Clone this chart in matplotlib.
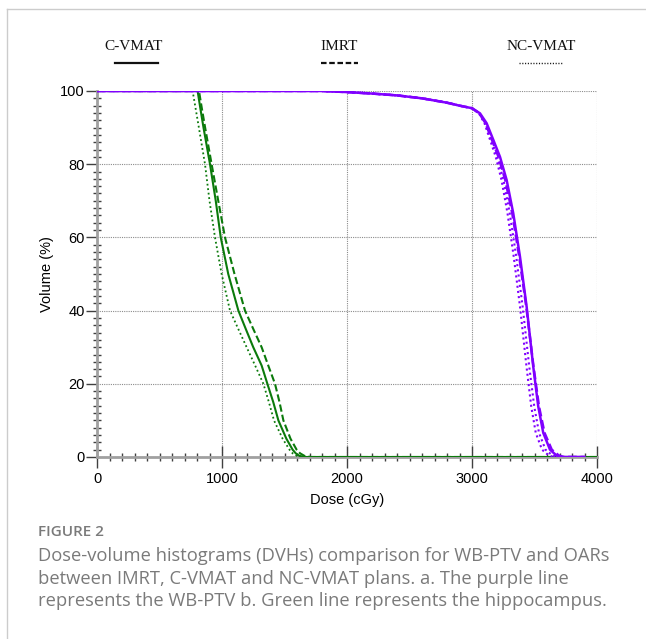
import matplotlib
matplotlib.use("Agg")
import matplotlib.pyplot as plt
from matplotlib.lines import Line2D
from matplotlib.ticker import MultipleLocator

# ---------------- data ----------------
plans = ["C-VMAT", "IMRT", "NC-VMAT"]

# Hippocampus (green)
hip_vol = [100, 100, 95, 90, 80, 70, 60, 50, 40, 35, 30, 25, 20, 15, 10, 5, 2, 1, 0.3, 0, 0]
hip_cvmat_dose = [0, 805, 828, 852, 904, 950, 990, 1050, 1131, 1190, 1250, 1317, 1363, 1410, 1451, 1515, 1565, 1590, 1620, 1660, 4000]
hip_imrt_dose = [0, 816, 840, 865, 917, 970, 1024, 1100, 1184, 1250, 1317, 1370, 1424, 1460, 1491, 1548, 1597, 1625, 1660, 1710, 4000]
hip_ncvmat_dose = [0, 765, 790, 815, 864, 900, 944, 997, 1064, 1130, 1197, 1265, 1331, 1375, 1416, 1485, 1540, 1565, 1600, 1645, 4000]

# WB-PTV (purple)
ptv_vol = [100, 100, 99.7, 99.3, 98.8, 98.0, 96.8, 96.0, 95.3, 93.9, 91.2, 86.6, 82.0, 75.7, 66.6, 54.7, 41.1, 24.7, 13.8, 6.6, 2.0, 0.4, 0, 0]
ptv_cvmat_dose = [0, 1800, 2000, 2200, 2400, 2600, 2800, 2900, 3000, 3064, 3117, 3171, 3224, 3277, 3330, 3384, 3437, 3490, 3530, 3570, 3624, 3677, 3715, 3900]
ptv_imrt_dose = [0, 1800, 2000, 2200, 2400, 2600, 2800, 2900, 3000, 3058, 3108, 3160, 3212, 3266, 3322, 3378, 3434, 3492, 3536, 3580, 3638, 3695, 3735, 3900]
ptv_ncvmat_dose = [0, 1800, 2000, 2200, 2400, 2600, 2800, 2900, 3000, 3055, 3100, 3145, 3190, 3236, 3284, 3334, 3384, 3436, 3474, 3510, 3560, 3615, 3655, 3900]
ptv_ncvmat2_dose = [0, 1800, 2000, 2200, 2400, 2600, 2800, 2900, 3000, 3058, 3105, 3155, 3203, 3252, 3302, 3354, 3405, 3458, 3498, 3536, 3588, 3645, 3685, 3900]

x_ticks = [0, 1000, 2000, 3000, 4000]
y_ticks = [0, 20, 40, 60, 80, 100]

caption_title = "FIGURE 2"
caption_lines = [
    "Dose-volume histograms (DVHs) comparison for WB-PTV and OARs",
    "between IMRT, C-VMAT and NC-VMAT plans. a. The purple line",
    "represents the WB-PTV b. Green line represents the hippocampus.",
]

# ---------------- figure ----------------
plt.rcParams["font.family"] = ["Liberation Sans", "DejaVu Sans"]
W, H = 646, 639
fig = plt.figure(figsize=(W / 100, H / 100), dpi=100)

def fx(px):
    return px / W

def fy(py):
    return 1 - py / H

ax = fig.add_axes([fx(97), fy(457), fx(597) - fx(97), fy(91) - fy(457)])

green = "#0b7a0b"
purple = "#8000ff"

ax.plot(hip_cvmat_dose, hip_vol, color=green, lw=1.5, ls="-", zorder=3)
ax.plot(hip_imrt_dose, hip_vol, color=green, lw=1.5, ls=(0, (3.5, 1.5)), zorder=3)
ax.plot(hip_ncvmat_dose, hip_vol, color=green, lw=1.3, ls=(0, (1, 1.5)), zorder=3)

ax.plot(ptv_cvmat_dose, ptv_vol, color=purple, lw=1.8, ls="-", zorder=4)
ax.plot(ptv_imrt_dose, ptv_vol, color=purple, lw=1.8, ls=(0, (3.5, 1.5)), zorder=4)
ax.plot(ptv_ncvmat_dose, ptv_vol, color=purple, lw=1.5, ls=(0, (1, 1.5)), zorder=4)
ax.plot(ptv_ncvmat2_dose, ptv_vol, color=purple, lw=1.5, ls=(0, (1, 1.5)), zorder=4)

ax.set_xlim(0, 4000)
ax.set_ylim(0, 100)
ax.set_xticks(x_ticks)
ax.set_yticks(y_ticks)
ax.xaxis.set_minor_locator(MultipleLocator(100))
ax.yaxis.set_minor_locator(MultipleLocator(2))

ax.grid(True, which="major", color="#8c8c8c", ls=(0, (1, 1)), lw=0.8)
for s in ["top", "right"]:
    ax.spines[s].set_visible(False)
for s in ["left", "bottom"]:
    ax.spines[s].set_color("#a0a0a0")
    ax.spines[s].set_linewidth(2)
    ax.spines[s].set_zorder(2)

ax.tick_params(axis="y", which="major", direction="out", length=8, width=1, color="#404040",
               labelsize=10.5, pad=1)
ax.tick_params(axis="y", which="minor", direction="inout", length=6, width=1, color="#404040")
ax.tick_params(axis="x", which="major", direction="inout", length=16, width=1, color="#404040",
               labelsize=10.5, pad=3)
ax.tick_params(axis="x", which="minor", direction="inout", length=6, width=1, color="#404040")

ax.set_xlabel("Dose (cGy)", fontsize=10.5, labelpad=5)
ax.set_ylabel("Volume (%)", fontsize=10.5, labelpad=4)

# ---------------- legend (header style) ----------------
serif = ["Liberation Serif", "DejaVu Serif"]
leg_items = [
    ("C-VMAT", 134, 115, 158, "-", 1.6),
    ("IMRT", 339, 321, 358, (0, (2.5, 1.2)), 1.6),
    ("NC-VMAT", 541, 519, 562, (0, (0.8, 1.2)), 1.0),
]
for name, cx, x0, x1, ls, lw in leg_items:
    fig.text(fx(cx), fy(47), name, ha="center", va="center", fontsize=11,
             family=serif, color="#111111")
    fig.add_artist(Line2D([fx(x0), fx(x1)], [fy(63), fy(63)], color="#111111",
                          lw=lw, ls=ls, transform=fig.transFigure))

# ---------------- frame ----------------
fig.add_artist(Line2D([fx(7), fx(7)], [fy(9), 0], color="#cccccc", lw=1,
                      transform=fig.transFigure))
fig.add_artist(Line2D([fx(7), 1], [fy(9), fy(9)], color="#cccccc", lw=1,
                      transform=fig.transFigure))

# ---------------- caption ----------------
cap_font = ["Open Sans", "DejaVu Sans"]
fig.text(fx(38), fy(532), caption_title, ha="left", va="center", fontsize=11,
         family=cap_font, weight="semibold", color="#7a7a7a")
for i, line in enumerate(caption_lines):
    fig.text(fx(38), fy(556 + 22.5 * i), line, ha="left", va="center", fontsize=13.2,
             family=cap_font, color="#7a7a7a")

fig.savefig("out.png", dpi=100)
